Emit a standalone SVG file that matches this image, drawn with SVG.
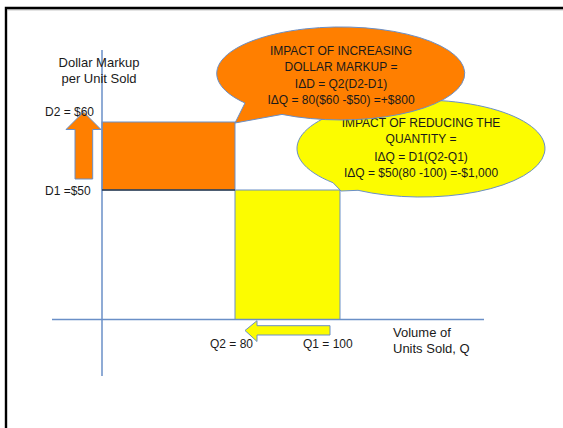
<svg xmlns="http://www.w3.org/2000/svg" width="563" height="428" viewBox="0 0 563 428">
<style>
.t{font-family:"Liberation Sans",Arial,sans-serif;font-size:12px;fill:#1a1a1a}
.c{text-anchor:middle}
.ax{stroke:#6a8fc7;stroke-width:1.5;fill:none}
.sh{stroke:#6a8fc7;stroke-width:1}
.or{fill:#ff7f00}
.ye{fill:#fcfc00}
</style>
<rect x="0" y="0" width="563" height="428" fill="#ffffff"/>
<g id="frame">
<path d="M6,428 V8 H563" fill="none" stroke="#000" stroke-width="2.4"/>
<line x1="7.5" y1="9.8" x2="563" y2="9.8" stroke="#8a8a8a" stroke-width="0.8"/>
</g>
<g id="area-quantity">
<rect class="ye sh" x="235" y="190" width="105" height="129.5"/>
</g>
<g id="area-markup">
<rect class="or sh" x="102" y="122" width="133" height="68"/>
</g>
<g id="connectors">
<line class="ax" x1="102" y1="50" x2="102" y2="376"/>
<line class="ax" x1="52" y1="319.5" x2="484" y2="319.5"/>
<line x1="102" y1="190" x2="235" y2="190" stroke="#2b3a4c" stroke-width="1.4"/>
</g>
<g id="arrow-up">
<path class="or sh" d="M75,179 V129.5 H66 L83.5,112 L101,129.5 H92.7 V179 Z"/>
</g>
<g id="arrow-left">
<path class="ye sh" d="M330,325.7 H257 V320.7 L245,330.5 L257,341.5 V335 H330 Z"/>
</g>
<g id="callout-quantity">
<path class="ye sh" d="M333,182.7 L341,191 L358,190.3 A124,48.5 0 1 0 333,182.7 Z"/>
<text class="t c" x="421" y="126.6">IMPACT OF REDUCING THE</text>
<text class="t c" x="421" y="143.3">QUANTITY =</text>
<text class="t c" x="421" y="160.5">IΔQ = D1(Q2-Q1)</text>
<text class="t c" x="421" y="177">IΔQ = $50(80 -100) =-$1,000</text>
</g>
<g id="callout-markup">
<path class="or sh" d="M245,103 L235,123 L282,114.4 A124,46.5 0 1 0 245,103 Z"/>
<text class="t c" x="341" y="55">IMPACT OF INCREASING</text>
<text class="t c" x="341" y="71.3">DOLLAR MARKUP =</text>
<text class="t c" x="341" y="87.6">IΔD = Q2(D2-D1)</text>
<text class="t c" x="341" y="104">IΔQ = 80($60 -$50) =+$800</text>
</g>
<g id="labels">
<text class="t c" x="99" y="67.3" style="font-size:13px">Dollar Markup</text>
<text class="t c" x="99" y="82.5" style="font-size:13px">per Unit Sold</text>
<text class="t" x="45" y="115.5">D2 = $60</text>
<text class="t" x="45" y="194.5">D1 =$50</text>
<text class="t" x="210" y="348.3">Q2 = 80</text>
<text class="t" x="303" y="348.3">Q1 = 100</text>
<text class="t" x="393" y="336.7" style="font-size:13px">Volume of</text>
<text class="t" x="393" y="352.7" style="font-size:13px">Units Sold, Q</text>
</g>
</svg>
